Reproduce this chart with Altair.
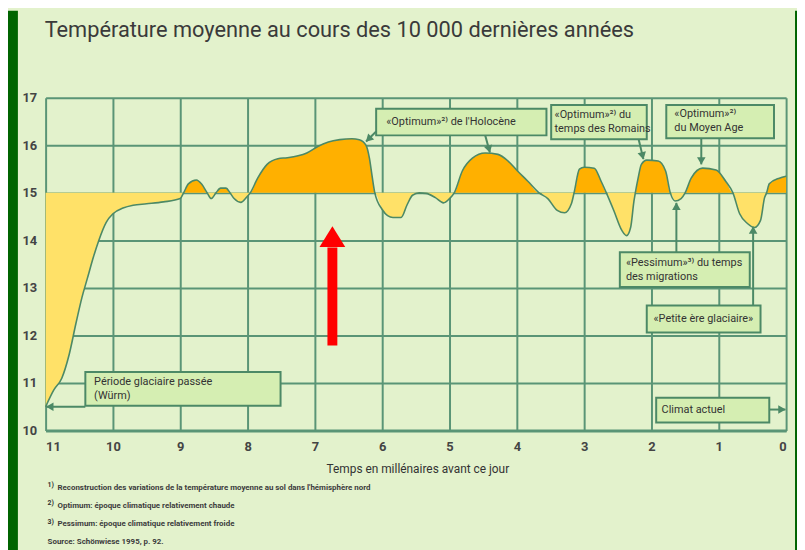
import math
import altair as alt
import pandas as pd

# ---------------- data ----------------
years = [11.0, 10.88, 10.76, 10.65, 10.55, 10.46, 10.38, 10.29, 10.21, 10.10, 10.0,
         9.85, 9.7, 9.5, 9.25, 9.0, 8.95, 8.88, 8.76, 8.68, 8.6, 8.54, 8.47, 8.40,
         8.32, 8.26, 8.2, 8.1, 8.02, 7.96, 7.85, 7.71, 7.55, 7.41, 7.25, 7.12, 6.95,
         6.8, 6.63, 6.45, 6.34, 6.24, 6.19, 6.15, 6.11, 6.0, 5.92, 5.84, 5.72, 5.63,
         5.55, 5.45, 5.35, 5.21, 5.09, 5.0, 4.93, 4.81, 4.66, 4.47, 4.28, 4.13, 3.99,
         3.84, 3.67, 3.54, 3.4, 3.29, 3.19, 3.15, 3.07, 3.0, 2.85, 2.75, 2.67, 2.56,
         2.44, 2.37, 2.31, 2.26, 2.24, 2.2, 2.15, 2.07, 1.9, 1.79, 1.72, 1.65, 1.56,
         1.5, 1.41, 1.24, 1.04, 0.9, 0.79, 0.69, 0.57, 0.47, 0.38, 0.32, 0.29, 0.25,
         0.1, 0.0]
temps = [10.5, 10.85, 11.1, 11.6, 12.25, 12.8, 13.2, 13.65, 14.0, 14.38, 14.56,
         14.68, 14.74, 14.77, 14.81, 14.88, 15.0, 15.19, 15.27, 15.18, 15.0, 14.88,
         15.0, 15.1, 15.1, 15.0, 14.88, 14.8, 14.9, 15.0, 15.31, 15.6, 15.72, 15.74,
         15.78, 15.84, 15.98, 16.07, 16.12, 16.14, 16.12, 16.0, 15.73, 15.35, 15.0,
         14.65, 14.52, 14.48, 14.48, 14.75, 14.95, 15.0, 14.99, 14.9, 14.79, 14.88,
         15.0, 15.46, 15.73, 15.84, 15.81, 15.67, 15.46, 15.25, 15.0, 14.88, 14.63,
         14.58, 14.77, 15.0, 15.5, 15.54, 15.52, 15.25, 15.0, 14.63, 14.21, 14.1,
         14.27, 14.83, 15.0, 15.3, 15.6, 15.69, 15.67, 15.46, 15.0, 14.83, 14.88,
         15.0, 15.31, 15.52, 15.48, 15.25, 15.0, 14.56, 14.35, 14.27, 14.42, 14.9,
         15.0, 15.19, 15.31, 15.35]
reference_temp = 15.0

x_ticks = list(range(0, 12))
y_ticks = list(range(10, 18))

title_text = "Température moyenne au cours des 10 000 dernières années"
x_title = "Temps en millénaires avant ce jour"

box_labels = [
    "«Optimum»²⁾ de l'Holocène",
    "«Optimum»²⁾ du\ntemps des Romains",
    "«Optimum»²⁾\ndu Moyen Age",
    "«Pessimum»³⁾ du temps\ndes migrations",
    "«Petite ère glaciaire»",
    "Période glaciaire passée\n(Würm)",
    "Climat actuel",
]
# box corners in data units (millennia, °C)
box_t0 = [6.09, 3.49, 1.78, 2.47, 2.07, 10.41, 1.93]
box_t1 = [3.56, 2.07, 0.18, 0.54, 0.38, 7.51, 0.25]
box_T0 = [16.77, 16.85, 16.85, 13.75, 12.63, 11.23, 10.69]
box_T1 = [16.21, 16.13, 16.15, 13.02, 12.06, 10.52, 10.17]
# position of the first text line in each box
text_t = [5.94, 3.44, 1.66, 2.38, 1.97, 10.28, 1.85]
text_T = [16.49, 16.64, 16.65, 13.53, 12.35, 11.02, 10.43]

# annotation arrows: start -> end (data units)
arr_t0 = [6.09, 4.47, 2.19, 1.26, 1.63, 0.49, 10.41, 0.25]
arr_T0 = [16.29, 16.21, 16.125, 16.15, 13.75, 12.63, 10.50, 10.44]
arr_t1 = [6.24, 4.40, 2.12, 1.26, 1.63, 0.49, 10.99, 0.01]
arr_T1 = [16.08, 15.85, 15.71, 15.60, 14.79, 14.29, 10.50, 10.44]

# red arrow
red_t = [6.74]
red_T0 = [11.79]
red_T1 = [13.85]
red_head_T = [14.08]

footnotes = [
    "Reconstruction des variations de la température moyenne au sol dans l'hémisphère nord",
    "Optimum: époque climatique relativement chaude",
    "Pessimum: époque climatique relativement froide",
]
footnote_marks = ["1)", "2)", "3)"]
source_text = "Source: Schönwiese 1995, p. 92."

# ---------------- styles ----------------
BG = "#e3f2cc"
FRAME = "#006400"
GRID = "#5a9576"
LINE = "#4c8966"
ORANGE = "#ffb000"
YELLOW = "#ffe168"
BOXFILL = "#d5eeb2"
TEXT = "#333333"
FONT = "Liberation Sans Narrow, Roboto, sans-serif"

PX0, PY0 = 46, 96          # page position of plot origin
W, H = 748, 336
PPX = W / 11.0               # pixels per millennium
PPY = H / 7.0                # pixels per degree

xscale = alt.Scale(domain=[0, 11], reverse=True, nice=False, zero=False)
yscale = alt.Scale(domain=[10, 17], nice=False, zero=False)
xaxis = alt.Axis(values=x_ticks, grid=True, gridColor=GRID, gridWidth=2, domain=True,
                 domainColor=GRID, domainWidth=3, ticks=False, labelPadding=10,
                 labelFontSize=13, labelFontWeight="bold", labelColor="#444444",
                 labelFont=FONT, title=None)
yaxis = alt.Axis(values=y_ticks, grid=True, gridColor=GRID, gridWidth=2, domain=False,
                 ticks=False, labelPadding=9, labelFontSize=13, labelFontWeight="bold",
                 labelColor="#444444", labelFont=FONT, title=None)


def X(f):
    return alt.X(f"{f}:Q", scale=xscale, axis=xaxis)


def Y(f):
    return alt.Y(f"{f}:Q", scale=yscale, axis=yaxis)


df = pd.DataFrame({"t": years, "T": temps})
df["hi"] = df["T"].clip(lower=reference_temp)
df["lo"] = df["T"].clip(upper=reference_temp)
df["base"] = reference_temp

boxes = pd.DataFrame({"x0": box_t0, "x1": box_t1, "y0": box_T0, "y1": box_T1,
                      "tx": text_t, "ty": text_T, "label": box_labels})

arr = pd.DataFrame({"x0": arr_t0, "y0": arr_T0, "x1": arr_t1, "y1": arr_T1})
heads = []
for a, b, c, d in zip(arr_t0, arr_T0, arr_t1, arr_T1):
    dx = -(c - a) * PPX
    dy = -(d - b) * PPY
    L = math.hypot(dx, dy)
    ux, uy = dx / L, dy / L
    ang = math.degrees(math.atan2(dx, -dy)) % 360
    heads.append({"t": c + 3.5 * ux / PPX, "T": d + 3.5 * uy / PPY, "ang": ang})
heads = pd.DataFrame(heads)

red = pd.DataFrame({"t": red_t, "y0": red_T0, "y1": red_T1, "yh": red_head_T})

one = pd.DataFrame({"a": [0]})


def ptext(txt, px, py, size, align="left", weight="normal", color=TEXT, font=FONT):
    return alt.Chart(one).mark_text(text=txt, align=align, baseline="middle",
                                    fontSize=size, fontWeight=weight, color=color,
                                    font=font).encode(
        x=alt.value(px - PX0), y=alt.value(py - PY0))


def prect(px0, px1, py0, py1, color):
    return alt.Chart(one).mark_rect(color=color).encode(
        x=alt.value(px0 - PX0), x2=alt.value(px1 - PX0),
        y=alt.value(py0 - PY0), y2=alt.value(py1 - PY0))


layers = []
layers.append(prect(8, 18, 8, 560, FRAME))
layers.append(prect(803, 812, 8, 560, FRAME))

area_hi = alt.Chart(df).mark_area(color=ORANGE, interpolate="monotone").encode(
    x=X("t"), y=Y("hi"), y2=alt.Y2("base:Q"))
area_lo = alt.Chart(df).mark_area(color=YELLOW, interpolate="monotone").encode(
    x=X("t"), y=Y("lo"), y2=alt.Y2("base:Q"))
line = alt.Chart(df).mark_line(color=LINE, strokeWidth=1.6, interpolate="monotone").encode(
    x=X("t"), y=Y("T"))
layers += [area_hi, area_lo, line]

rules = alt.Chart(arr).mark_rule(color=LINE, strokeWidth=2).encode(
    x=X("x0"), x2=alt.X2("x1:Q"), y=Y("y0"), y2=alt.Y2("y1:Q"))
head_pts = alt.Chart(heads).mark_point(shape="triangle-up", filled=True, size=75,
                                       color=LINE, opacity=1, strokeWidth=0).encode(
    x=X("t"), y=Y("T"), angle=alt.Angle("ang:Q", scale=None))
box_rect = alt.Chart(boxes).mark_rect(fill=BOXFILL, stroke=LINE, strokeWidth=2).encode(
    x=X("x0"), x2=alt.X2("x1:Q"), y=Y("y0"), y2=alt.Y2("y1:Q"))
box_text = alt.Chart(boxes).mark_text(align="left", baseline="middle", fontSize=11,
                                      font=FONT, color=TEXT, lineBreak="\n",
                                      lineHeight=14).encode(
    x=X("tx"), y=Y("ty"), text="label:N")
layers += [rules, head_pts, box_rect, box_text]

red_shaft = alt.Chart(red).mark_rule(color="#ff0000", strokeWidth=10).encode(
    x=X("t"), y=Y("y0"), y2=alt.Y2("y1:Q"))
red_head = alt.Chart(red).mark_point(shape="M-1,0.8L1,0.8L0,-0.8Z", filled=True,
                                     size=676, color="#ff0000", opacity=1,
                                     strokeWidth=0).encode(x=X("t"), y=Y("yh"))
layers += [red_shaft, red_head]

layers.append(ptext(title_text, 45, 28, 22, color="#3a3a3a"))
layers.append(ptext(x_title, 422, 471, 12, align="center"))
fy = [490, 508, 527]
for mark, txt, y in zip(footnote_marks, footnotes, fy):
    layers.append(ptext(mark, 48, y - 3, 7, weight="bold"))
    layers.append(ptext(txt, 58, y, 8, weight="bold", color="#3c3c3c"))
layers.append(ptext(source_text, 48, 545, 8, weight="bold", color="#3c3c3c"))

chart = alt.layer(*layers).properties(
    width=W, height=H, background=BG,
    autosize=alt.AutoSizeParams(type="none"),
    padding={"left": 38, "top": 88, "right": 11, "bottom": 118},
).configure_view(stroke=None)

chart.save("out.html", embed_options={"renderer": "svg", "actions": False})
